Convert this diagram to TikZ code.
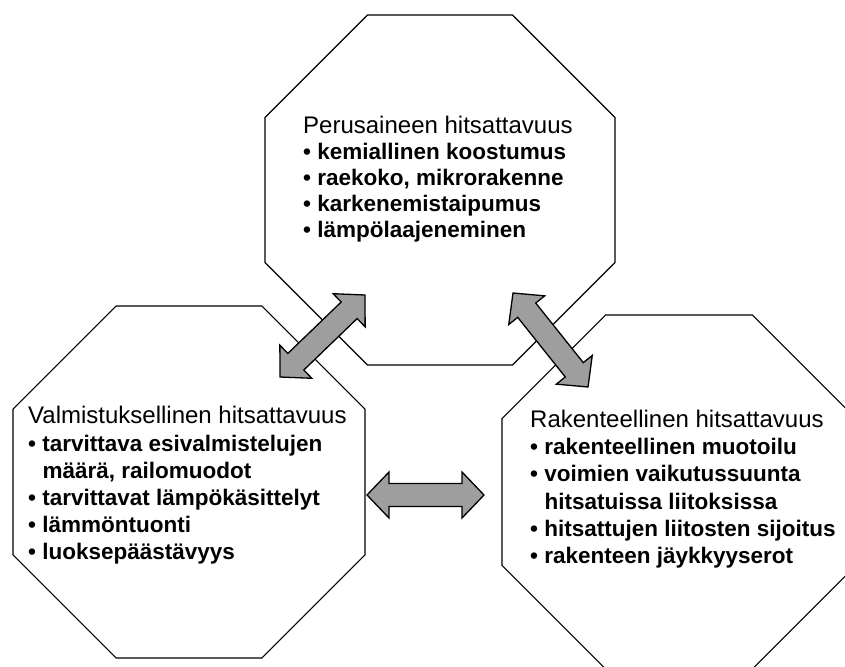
\documentclass[tikz,border=0pt]{standalone}
\usepackage{fontspec}
\setmainfont{Liberation Sans}
\usetikzlibrary{calc}
\tikzset{
  oct/.style={draw=black, line width=1.1pt, line join=miter},
  headtxt/.style={anchor=base west, inner sep=0pt, font=\fontsize{24}{26}\selectfont},
  itemtxt/.style={anchor=base west, inner sep=0pt, font=\fontsize{22.5}{26}\selectfont\bfseries},
  blockarrow/.style={draw=black, line width=1.3pt, fill=black!38, line join=miter},
}
\newcommand\octa[3]{%
  \draw[oct] ({#1-0.41421*#3},{#2-#3}) -- ({#1+0.41421*#3},{#2-#3}) -- ({#1+#3},{#2-0.41421*#3}) -- ({#1+#3},{#2+0.41421*#3}) -- ({#1+0.41421*#3},{#2+#3}) -- ({#1-0.41421*#3},{#2+#3}) -- ({#1-#3},{#2+0.41421*#3}) -- ({#1-#3},{#2-0.41421*#3}) -- cycle;}
\newcommand\dblarrow[2]{%
  \coordinate (#1h) at ($(#1)!22pt!(#2)$);
  \coordinate (#2h) at ($(#2)!22pt!(#1)$);
  \filldraw[blockarrow] (#1) -- ($(#1h)!23pt!90:(#2)$) -- ($(#1h)!11.5pt!90:(#2)$) -- ($(#2h)!11.5pt!-90:(#1)$) -- ($(#2h)!23pt!-90:(#1)$) -- (#2) -- ($(#2h)!23pt!90:(#1)$) -- ($(#2h)!11.5pt!90:(#1)$) -- ($(#1h)!11.5pt!-90:(#2)$) -- ($(#1h)!23pt!-90:(#2)$) -- cycle;}
\begin{document}
\begin{tikzpicture}[x=1pt,y=-1pt]
\useasboundingbox (0,0) rectangle (845,666);
\clip (0,0) rectangle (845,666);
% octagons
\octa{440}{190}{175}
\octa{189}{482}{176}
\octa{679}{492}{177}
% top text
\node[headtxt] (t0) at (303,133) {Perusaineen hitsattavuus};
\node[itemtxt] (t1) at (303,159) {\textbullet\ kemiallinen koostumus};
\node[itemtxt] (t2) at (303,185) {\textbullet\ raekoko, mikrorakenne};
\node[itemtxt] (t3) at (303,211) {\textbullet\ karkenemistaipumus};
\node[itemtxt] (t4) at (303,237) {\textbullet\ lämpölaajeneminen};
% left text
\node[headtxt] (l0) at (28,423) {Valmistuksellinen hitsattavuus};
\node[itemtxt] (l1) at (28,451) {\textbullet\ tarvittava esivalmistelujen};
\node[itemtxt] (l2) at (42.5,478) {määrä, railomuodot};
\node[itemtxt] (l3) at (28,505) {\textbullet\ tarvittavat lämpökäsittelyt};
\node[itemtxt] (l4) at (28,532) {\textbullet\ lämmöntuonti};
\node[itemtxt] (l5) at (28,559) {\textbullet\ luoksepäästävyys};
% right text
\node[headtxt] (r0) at (530,427) {Rakenteellinen hitsattavuus};
\node[itemtxt] (r1) at (530,454) {\textbullet\ rakenteellinen muotoilu};
\node[itemtxt] (r2) at (530,481) {\textbullet\ voimien vaikutussuunta};
\node[itemtxt] (r3) at (544.5,509) {hitsatuissa liitoksissa};
\node[itemtxt] (r4) at (530,536) {\textbullet\ hitsattujen liitosten sijoitus};
\node[itemtxt] (r5) at (530,563) {\textbullet\ rakenteen jäykkyyserot};
% arrows
\coordinate (a1s) at (280,377);
\coordinate (a1e) at (365,295);
\coordinate (a2s) at (513,293);
\coordinate (a2e) at (588,387);
\coordinate (a3s) at (367,495);
\coordinate (a3e) at (484,495);
\dblarrow{a1s}{a1e}
\dblarrow{a2s}{a2e}
\dblarrow{a3s}{a3e}
\end{tikzpicture}
\end{document}
